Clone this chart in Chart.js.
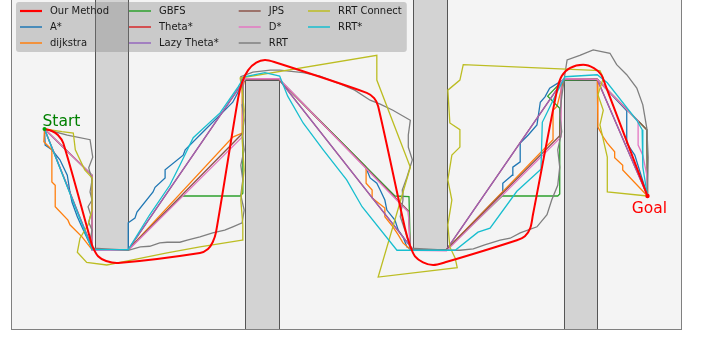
<!DOCTYPE html>
<html>
<head>
<meta charset="utf-8">
<script src="https://cdn.jsdelivr.net/npm/chart.js@4/dist/chart.umd.min.js"></script>
<style>
html,body{margin:0;padding:0;background:#fff;overflow:hidden;width:701px;height:337px;}
#wrap{position:absolute;left:0;top:-5px;width:701px;height:342px;}
canvas{display:block;}
</style>
</head>
<body>
<div id="wrap"><canvas id="c" width="701" height="342"></canvas></div>
<script>
// Map extents in grid units
const xRange = [0, 100];
const yRange = [0, 50];

// Obstacles as [xMin, xMax, yMin, yMax]
const obstacles = [
  [12.5, 17.5, 12.1, 60],
  [35.0, 40.0, -10, 37.3],
  [60.0, 65.0, 12.1, 60],
  [82.5, 87.5, -10, 37.3]
];

const startPt = [5, 30];
const goalPt = [95, 20];

// Planned paths, one array of [x, y] waypoints per planner
const ourMethod = [[5,30],[6.1,29.7],[7.0,29.1],[7.8,27.9],[11.8,13.7],[12.2,12.4],[13.0,11.0],[14.2,10.3],[16.0,10.0],[28.2,11.5],[29.4,12.1],[30.1,13.1],[30.6,14.6],[33.9,34.6],[34.5,37.0],[35.4,38.8],[36.6,39.9],[37.9,40.3],[39.3,40.0],[53.1,35.4],[54.2,34.6],[54.8,33.4],[58.8,15.2],[59.6,12.5],[60.3,11.0],[61.5,10.1],[63.0,9.7],[64.8,10.1],[75.5,13.4],[76.7,14.0],[77.5,15.2],[77.9,17.2],[81.5,35.8],[82.2,37.9],[83.4,39.1],[85.4,39.6],[87.0,39.1],[88.1,38.1],[88.7,36.6],[95,20]];

const aStar = [[5,30],[5.1,27.6],[6.1,26.9],[7.3,25.4],[8.4,23.1],[8.8,20.6],[9.1,19.1],[9.9,16.9],[10.3,16.0],[11.5,13.4],[12.2,12.0],[17.5,12.0],[17.5,16.0],[18.5,16.7],[18.8,17.6],[21.2,20.6],[21.5,21.3],[23.0,22.7],[23.0,23.9],[25.7,26.1],[26.0,26.9],[28.2,29.1],[33.1,34.0],[34.9,37.4],[40.0,37.4],[52.8,24.5],[53.1,23.9],[53.6,22.7],[54.6,21.9],[55.1,20.9],[55.8,19.4],[56.1,17.9],[57.3,16.4],[57.8,14.9],[58.5,13.9],[59.1,12.4],[60.0,12.0],[65.0,12.0],[73.4,20.6],[73.4,21.9],[74.8,23.1],[74.9,24.3],[76.0,25.1],[76.0,27.9],[77.2,29.1],[78.5,30.6],[79.0,34.0],[79.7,34.8],[80.4,36.1],[82.5,37.4],[87.5,37.4],[91.9,32.7],[91.9,27.9],[93.1,26.1],[95,20]];

const dijkstra = [[5,30],[4.9,28.1],[6.1,26.9],[6.1,22.1],[6.6,21.6],[6.6,18.4],[8.5,16.4],[8.8,15.7],[10.6,13.9],[12.1,12.0],[17.5,12.0],[33.1,28.8],[34.5,29.4],[34.5,35.8],[34.9,37.4],[40.0,37.4],[53.0,24.3],[53.0,21.9],[53.9,20.9],[53.9,19.7],[55.8,18.2],[55.8,16.9],[57.0,15.4],[57.8,14.2],[58.5,13.0],[59.6,12.0],[65.0,12.0],[80.9,28.4],[80.9,32.8],[81.5,33.4],[82.5,37.4],[87.5,37.4],[87.6,30.3],[88.4,28.8],[89.0,27.9],[90.1,26.6],[90.1,25.7],[91.3,24.6],[91.3,23.9],[95,20]];

const gbfs = [[5,30],[12.1,23.1],[12.1,12.0],[17.5,12.0],[25.5,20.0],[34.2,20.0],[34.6,20.4],[34.6,37.0],[35.0,37.4],[40.0,37.4],[57.3,20.0],[59.4,19.9],[59.6,12.0],[65.0,12.0],[73.3,20.0],[81.6,20.0],[81.9,20.3],[81.9,33.1],[80.1,34.9],[82.4,37.3],[87.5,37.4],[94.9,29.9],[95,20]];

const thetaStar = [[5,30],[12.2,12.0],[17.5,12.0],[34.9,37.4],[40.0,37.4],[60.0,12.0],[65.0,12.0],[82.5,37.4],[87.5,37.4],[95,20]];

const lazyThetaStar = [[5,30],[12.2,12.0],[17.5,12.0],[34.9,37.4],[40.0,37.4],[60.0,12.0],[65.0,12.0],[82.5,37.4],[87.5,37.4],[95,20]];

const jps = [[5,30],[12.1,23.1],[12.1,12.0],[17.5,12.0],[34.5,29.3],[34.6,37.0],[34.9,37.4],[40.0,37.4],[59.3,17.8],[59.6,12.0],[65.0,12.0],[81.9,29.0],[82.2,37.0],[82.5,37.4],[87.5,37.4],[94.9,29.9],[95,20]];

const dStar = [[5,30],[12.1,23.1],[12.1,11.9],[17.5,11.9],[34.5,28.8],[34.6,29.1],[34.6,37.0],[35.0,37.5],[40.0,37.5],[59.3,17.6],[59.6,11.9],[65.0,11.8],[82.1,28.8],[82.1,37.0],[82.5,37.5],[87.5,37.4],[93.6,31.2],[93.6,27.6],[94.3,26.1],[94.9,23.1],[95,20]];

const rrt = [[5,30],[8.4,29.1],[11.8,28.4],[12.2,25.8],[11.6,24.2],[12.1,22.4],[11.8,20.6],[12.1,19.4],[11.5,18.4],[11.9,17.2],[11.6,16.1],[12.1,14.9],[11.8,13.4],[12.2,12.2],[17.5,11.9],[19.3,12.4],[20.7,12.5],[22.2,13.0],[23.3,13.1],[25.2,13.1],[26.3,13.4],[28.2,13.9],[30.1,14.5],[31.9,14.9],[33.1,15.4],[34.5,16.0],[34.8,17.9],[34.3,20.1],[34.6,22.4],[34.3,24.6],[34.8,26.9],[34.5,29.1],[34.8,31.3],[34.5,33.6],[34.6,35.8],[34.3,37.8],[36.1,38.5],[38.7,38.8],[40.1,38.8],[43.6,38.4],[46.1,37.9],[48.7,36.9],[51.3,35.8],[53.6,34.3],[55.1,33.7],[57.0,32.8],[59.6,31.3],[59.3,29.1],[59.3,27.3],[59.9,25.4],[59.1,22.8],[58.4,20.9],[58.5,19.4],[58.1,16.9],[58.8,14.9],[59.6,12.2],[65.0,11.9],[67.0,11.9],[69.0,12.1],[70.7,12.7],[73.0,13.4],[74.5,13.7],[76.0,14.5],[78.5,15.4],[80.0,17.2],[80.7,19.4],[81.6,21.6],[81.9,24.3],[81.6,26.9],[82.2,29.6],[81.9,32.1],[82.2,34.8],[82.7,38.4],[83.0,40.3],[84.9,41.0],[86.9,41.8],[89.4,41.3],[90.4,39.6],[91.9,38.1],[93.4,36.1],[94.3,33.6],[94.9,30.1],[95.1,25.8],[95,20]];

const rrtConnect = [[5,30],[7.6,29.6],[9.3,29.4],[9.6,26.9],[11.0,23.9],[12.1,22.7],[12.1,17.9],[11.5,15.7],[10.3,13.7],[9.9,11.6],[11.3,10.1],[14.3,9.7],[16.3,10.1],[23.3,11.5],[28.2,12.4],[34.5,13.4],[34.6,15.7],[34.3,19.4],[34.8,23.9],[34.5,28.4],[34.8,32.8],[34.5,35.8],[34.2,37.6],[54.6,41.0],[54.6,37.3],[59.6,24.3],[54.8,7.9],[66.6,9.3],[66.3,10.7],[65.5,12.4],[65.2,15.7],[65.8,19.4],[65.2,22.4],[65.8,26.1],[67.0,27.3],[67.0,29.9],[65.5,30.9],[65.2,35.8],[67.0,37.3],[67.5,39.6],[87.9,38.7],[88.4,37.6],[87.6,35.1],[88.4,32.8],[87.9,30.6],[88.4,28.4],[89.0,25.8],[89.0,20.6],[95,20]];

const rrtStar = [[5,30],[12.1,12.0],[17.5,12.0],[20.7,17.2],[23.7,21.6],[25.2,24.6],[27.2,28.7],[31.2,32.4],[33.9,36.3],[34.8,37.8],[37.9,38.4],[40.1,37.9],[41.3,34.9],[43.6,30.9],[46.6,26.9],[50.1,22.4],[52.4,18.4],[57.6,11.9],[66.3,11.9],[69.7,14.6],[71.5,15.2],[75.5,20.7],[79.1,24.0],[79.3,31.0],[81.5,35.5],[82.7,37.8],[87.5,38.1],[89.0,36.9],[93.4,31.3],[94.2,29.9],[94.3,24.3],[95,20]];

const series = [
  {label: 'Our Method',  data: ourMethod,     color: '#ff0000', width: 2, order: 0, tension: 0.3},
  {label: 'A*',          data: aStar,         color: '#1f77b4', width: 1.3, order: 10},
  {label: 'dijkstra',    data: dijkstra,      color: '#ff7f0e', width: 1.3, order: 9},
  {label: 'GBFS',        data: gbfs,          color: '#2ca02c', width: 1.3, order: 8},
  {label: 'Theta*',      data: thetaStar,     color: '#d62728', width: 1.3, order: 7},
  {label: 'Lazy Theta*', data: lazyThetaStar, color: '#9467bd', width: 1.3, order: 6},
  {label: 'JPS',         data: jps,           color: '#8c564b', width: 1.3, order: 5},
  {label: 'D*',          data: dStar,         color: '#e377c2', width: 1.3, order: 4},
  {label: 'RRT',         data: rrt,           color: '#7f7f7f', width: 1.3, order: 3},
  {label: 'RRT Connect', data: rrtConnect,    color: '#bcbd22', width: 1.3, order: 2},
  {label: 'RRT*',        data: rrtStar,       color: '#17becf', width: 1.3, order: 1}
];

const datasets = series.map(s => ({
  label: s.label,
  data: s.data.map(p => ({x: p[0], y: p[1]})),
  showLine: true,
  borderColor: s.color,
  backgroundColor: s.color,
  borderWidth: s.width,
  pointRadius: 0,
  pointHoverRadius: 0,
  tension: s.tension || 0,
  fill: false,
  order: s.order
}));

const FONT = '"DejaVu Sans", Verdana, sans-serif';

const mapPlugin = {
  id: 'mapLayers',
  beforeDraw(chart) {
    const {ctx, chartArea: a} = chart;
    ctx.save();
    ctx.fillStyle = '#f4f4f4';
    ctx.fillRect(a.left, a.top, a.right - a.left, a.bottom - a.top);
    ctx.restore();
  },
  beforeDatasetsDraw(chart) {
    const {ctx, chartArea: a, scales: {x, y}} = chart;
    ctx.save();
    ctx.beginPath();
    ctx.rect(a.left, a.top, a.right - a.left, a.bottom - a.top);
    ctx.clip();
    obstacles.forEach(o => {
      const x0 = Math.round(x.getPixelForValue(o[0])) + 0.5;
      const x1 = Math.round(x.getPixelForValue(o[1])) + 0.5;
      const y0 = Math.round(y.getPixelForValue(o[3])) + 0.5;
      const y1 = Math.round(y.getPixelForValue(o[2])) + 0.5;
      ctx.fillStyle = '#d3d3d3';
      ctx.fillRect(x0, y0, x1 - x0, y1 - y0);
      ctx.strokeStyle = '#555555';
      ctx.lineWidth = 1;
      ctx.strokeRect(x0, y0, x1 - x0, y1 - y0);
    });
    ctx.restore();
  },
  afterDatasetsDraw(chart) {
    const {ctx, chartArea: a, scales: {x, y}} = chart;
    ctx.save();
    // axes frame
    ctx.strokeStyle = '#808080';
    ctx.lineWidth = 1;
    ctx.strokeRect(Math.round(a.left) + 0.5, Math.round(a.top) + 0.5,
      Math.round(a.right - a.left), Math.round(a.bottom - a.top) - 1);
    // start / goal markers
    const sx = x.getPixelForValue(startPt[0]), sy = y.getPixelForValue(startPt[1]);
    const gx = x.getPixelForValue(goalPt[0]), gy = y.getPixelForValue(goalPt[1]);
    ctx.fillStyle = '#00a000';
    ctx.beginPath(); ctx.arc(sx, sy, 2, 0, Math.PI * 2); ctx.fill();
    ctx.fillStyle = '#ff0000';
    ctx.beginPath(); ctx.arc(gx, gy, 2.2, 0, Math.PI * 2); ctx.fill();
    ctx.font = '15.5px ' + FONT;
    ctx.textBaseline = 'alphabetic';
    ctx.fillStyle = '#008000';
    ctx.textAlign = 'left';
    ctx.fillText('Start', sx - 2, sy - 3);
    ctx.fillStyle = '#ff0000';
    ctx.textAlign = 'center';
    ctx.fillText('Goal', gx + 2, gy + 17);
    ctx.restore();
  },
  afterDraw(chart) {
    const {ctx, chartArea: a} = chart;
    const order = ['Our Method','A*','dijkstra','GBFS','Theta*','Lazy Theta*','JPS','D*','RRT','RRT Connect','RRT*'];
    const items = order.map(l => series.find(s => s.label === l));
    const rows = 3, cols = Math.ceil(items.length / rows);
    ctx.save();
    ctx.font = '10px ' + FONT;
    const handleLen = 22, textGap = 30, colGap = 20, pad = 4;
    const colW = [];
    for (let c = 0; c < cols; c++) {
      let w = 0;
      for (let r = 0; r < rows; r++) {
        const it = items[c * rows + r];
        if (it) w = Math.max(w, ctx.measureText(it.label).width);
      }
      colW.push(w);
    }
    const left = a.left + 5, top = a.top + 7;
    let width = pad;
    colW.forEach((w, i) => { width += textGap + w + (i < cols - 1 ? colGap : 0); });
    width += pad + 1;
    const height = 50, rowH = 16, firstRow = top + 9;
    // legend frame
    ctx.fillStyle = 'rgba(128,128,128,0.36)';
    ctx.beginPath();
    ctx.roundRect(left, top, width, height, 3);
    ctx.fill();
    let cx = left + pad;
    for (let c = 0; c < cols; c++) {
      for (let r = 0; r < rows; r++) {
        const it = items[c * rows + r];
        if (!it) continue;
        const ry = firstRow + r * rowH;
        ctx.strokeStyle = it.color;
        ctx.lineWidth = it.width + 0.2;
        ctx.beginPath();
        ctx.moveTo(cx, ry);
        ctx.lineTo(cx + handleLen, ry);
        ctx.stroke();
        ctx.fillStyle = '#1a1a1a';
        ctx.textAlign = 'left';
        ctx.textBaseline = 'middle';
        ctx.fillText(it.label, cx + textGap, ry);
      }
      cx += textGap + colW[c] + colGap;
    }
    ctx.restore();
  }
};

new Chart(document.getElementById('c'), {
  type: 'scatter',
  data: {datasets},
  options: {
    responsive: false,
    animation: false,
    devicePixelRatio: 1,
    layout: {padding: {left: 11, right: 20, top: 0, bottom: 7}},
    plugins: {legend: {display: false}, tooltip: {enabled: false}},
    events: [],
    scales: {
      x: {type: 'linear', min: xRange[0], max: xRange[1], display: false},
      y: {type: 'linear', min: yRange[0], max: yRange[1], display: false}
    }
  },
  plugins: [mapPlugin]
});
</script>
</body>
</html>
